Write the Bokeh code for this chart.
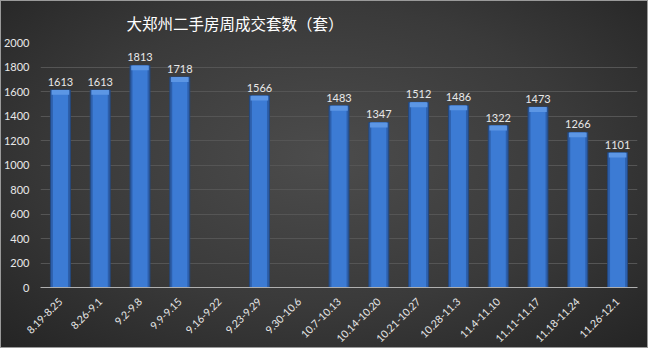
from bokeh.plotting import figure
from bokeh.models import ColumnDataSource, LabelSet, FixedTicker
from bokeh.core.properties import value
from bokeh.embed import file_html
from bokeh.resources import INLINE
import math

title_text = "大郑州二手房周成交套数（套）"
weeks = ["8.19-8.25", "8.26-9.1", "9.2-9.8", "9.9-9.15", "9.16-9.22", "9.23-9.29",
         "9.30-10.6", "10.7-10.13", "10.14-10.20", "10.21-10.27", "10.28-11.3",
         "11.4-11.10", "11.11-11.17", "11.18-11.24", "11.26-12.1"]
deals = [1613, 1613, 1813, 1718, None, 1566, None, 1483, 1347, 1512, 1486,
         1322, 1473, 1266, 1101]
y_ticks = list(range(0, 2001, 200))

vals = [float("nan") if v is None else v for v in deals]
labels = ["" if v is None else str(v) for v in deals]
cap = [v - 40 for v in vals]
src = ColumnDataSource(dict(x=weeks, top=vals, lab=labels, cap=cap))

p = figure(x_range=weeks, y_range=(0, 2000), width=648, height=348,
           output_backend="svg", toolbar_location=None,
           min_border_left=4, min_border_right=11, min_border_bottom=4,
           min_border_top=4)
p.border_fill_color = None
p.background_fill_color = None
p.outline_line_color = None
p.styles = {
    "background": "radial-gradient(ellipse at 50% 45%, #4c4c4c 0%, #3a3a3a 55%, #242424 100%)",
    "box-shadow": "inset 0 0 0 1px #9a9a9a",
}

p.title.text = title_text
p.title.text_font = "Noto Sans CJK SC"
p.title.text_font_size = "15.5px"
p.title.text_font_style = "normal"
p.title.text_color = "#ffffff"
p.title.align = "left"
p.title.offset = 86
p.title.standoff = 18

p.vbar(x="x", top="top", width=0.5, source=src, fill_color="#2d5fab",
       line_color="#24487e", line_width=1)
p.vbar(x="x", top="top", width=0.38, source=src, fill_color="#3c7bd4",
       line_color=None)
p.vbar(x="x", top="top", bottom="cap", width=0.44, source=src,
       fill_color="#5c96e4", line_color=None)

p.add_layout(LabelSet(x="x", y="top", text="lab", source=src, y_offset=4,
                      text_align="center", text_baseline="bottom",
                      text_font=value("Lato"), text_font_size="11px",
                      text_color="#e8e8e8"))

p.yaxis.ticker = FixedTicker(ticks=y_ticks)
p.yaxis.axis_line_color = None
p.yaxis.major_tick_line_color = None
p.yaxis.minor_tick_line_color = None
p.yaxis.major_label_text_color = "#e8e8e8"
p.yaxis.major_label_text_font = "Lato"
p.yaxis.major_label_text_font_size = "11px"
p.yaxis.major_label_standoff = 5

p.xaxis.axis_line_color = "#b0b0b0"
p.xaxis.major_tick_line_color = None
p.xaxis.minor_tick_line_color = None
p.xaxis.major_label_orientation = math.pi / 4
p.xaxis.major_label_text_color = "#e8e8e8"
p.xaxis.major_label_text_font = "Lato"
p.xaxis.major_label_text_font_size = "10.5px"
p.xaxis.major_label_standoff = 6

p.xgrid.grid_line_color = None
p.ygrid.grid_line_color = "#555555"
p.ygrid.grid_line_width = 1

open("out.html", "w").write(file_html(p, INLINE))
